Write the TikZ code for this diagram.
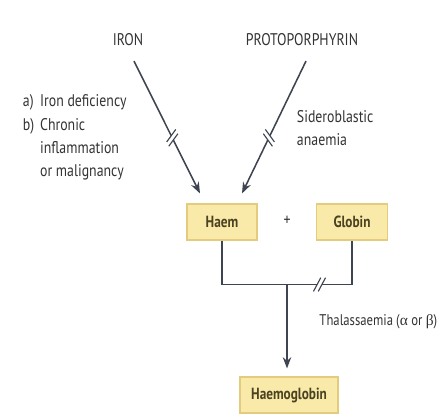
\documentclass[tikz,border=0pt]{standalone}
\usepackage{fontspec}
\setmainfont{PT Sans}[FakeStretch=0.82]
\newfontfamily\grk{Liberation Serif}
\usepackage{tikz}
\usetikzlibrary{arrows.meta,positioning,calc}

\definecolor{boxfill}{HTML}{F9EAA9}
\definecolor{boxedge}{HTML}{E3CC7E}
\definecolor{lnclr}{HTML}{3E4452}
\definecolor{txtclr}{HTML}{333333}
\definecolor{boxtxt}{HTML}{4A4222}

% break marks on a line: point, line angle, mark angle
\newcommand{\brk}[3]{%
  \begin{scope}[shift={(#1)}]
    \fill[white, rotate=#2] (-1.7pt,-2pt) rectangle (1.7pt,2pt);
    \draw[brkln] (#2:-1.7pt) ++(#3:5.5pt) -- ++(#3:-11pt);
    \draw[brkln] (#2:1.7pt) ++(#3:5.5pt) -- ++(#3:-11pt);
  \end{scope}}

\begin{document}
\begin{tikzpicture}[
    mol/.style={draw=boxedge, line width=0.8pt, fill=boxfill, minimum height=0.9cm, align=center, font=\fontsize{11.5}{13}\selectfont\bfseries, text=boxtxt},
    src/.style={font=\fontsize{12}{14}\selectfont, text=txtclr},
    note/.style={font=\fontsize{12}{16.5}\selectfont, text=txtclr, align=left},
    arr/.style={-{Stealth[length=8pt, width=6pt]}, line width=1.1pt, draw=lnclr},
    ln/.style={line width=1.1pt, draw=lnclr},
    brkln/.style={line width=0.8pt, draw=lnclr}
]
\useasboundingbox (0,0) rectangle (11,10.375);

\node[src] (iron) at (3.2,9.375) {IRON};
\node[src] (proto) at (7.55,9.375) {PROTOPORPHYRIN};

\node[mol, minimum width=1.75cm] (haem) at (5.55,4.825) {Haem};
\node[mol, minimum width=1.78cm] (globin) at (8.8,4.825) {Globin};
\node[src] (plus) at (7.175,4.85) {+};
\node[mol, minimum width=2.45cm] (hb) at (7.225,0.5) {Haemoglobin};

\node[note, anchor=west] (ironlbl) at (0.45,6.95) {%
  \begin{tabular}{@{}l@{\hspace{0.35em}}l@{}}
    a) & Iron deficiency\\
    b) & Chronic\\
       & inflammation\\
       & or malignancy
  \end{tabular}};
\node[note, anchor=west] (sidero) at (7.3,7.175) {Sideroblastic\\anaemia};
\node[src, anchor=west, inner sep=0pt, font=\fontsize{11}{13}\selectfont] (thal) at (7.98,2.325) {Thalassaemia\hspace{0.2em}({\grk α} or {\grk β})};

% haem synthesis
\draw[arr] ($(iron.south)+(0.15,-0.25)$) -- coordinate[pos=0.58] (b1) ($(haem.north)+(-0.55,0.25)$);
\draw[arr] ($(proto.south)+(0.1,-0.25)$) -- coordinate[pos=0.58] (b2) ($(haem.north)+(0.5,0.25)$);

% globin chains
\coordinate (jn) at ($(haem.south)!0.5!(globin.south)+(0,-1.1)$);
\draw[ln] (haem.south) |- (jn) -| coordinate[pos=0.25] (b3) (globin.south);
\draw[arr] (jn) -- ($(hb.north)+(-0.05,0.2)$);

\brk{b1}{-64}{54}
\brk{b2}{-115}{126}
\brk{b3}{0}{62}
\end{tikzpicture}
\end{document}
